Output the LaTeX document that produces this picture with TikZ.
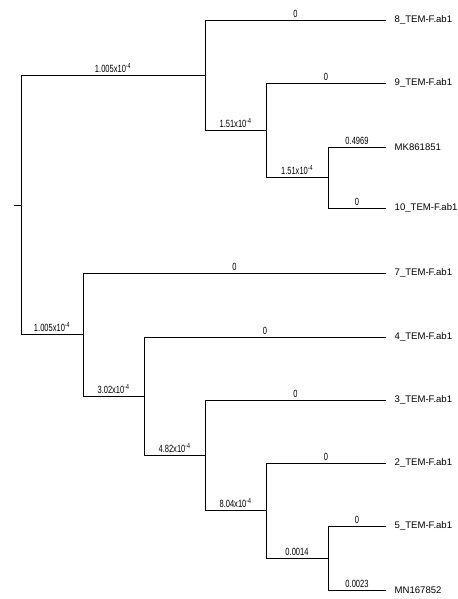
\documentclass[tikz,border=0pt]{standalone}
\usepackage{fontspec}
\setmainfont{Liberation Sans}
\begin{document}
\begin{tikzpicture}[x=1bp,y=-1bp,
  branch/.style={draw=black,line width=0.75pt},
  blabel/.style={font=\fontsize{10.5}{11}\selectfont,anchor=south,inner sep=0pt,yshift=2.5bp,xscale=0.72},
  leaflabel/.style={font=\fontsize{9.6}{11}\selectfont,anchor=west,inner ysep=0pt,inner xsep=8.5bp}]
\useasboundingbox (0,0) rectangle (458,599);
% internal nodes (x of vertical line, y of incoming branch)
\coordinate (tick) at (14,205);
\coordinate (root) at (21,205);
\coordinate (nA) at (205,75);
\coordinate (nB) at (266,130);
\coordinate (nC) at (328,177.5);
\coordinate (nD) at (83,334);
\coordinate (nE) at (144,396);
\coordinate (nF) at (205,455);
\coordinate (nG) at (266,510.5);
\coordinate (nH) at (328,558);
% leaves
\node[leaflabel] (l8) at (386,20) {8\_TEM-F.ab1};
\node[leaflabel] (l9) at (386,83) {9\_TEM-F.ab1};
\node[leaflabel] (lMK) at (386,147) {MK861851};
\node[leaflabel] (l10) at (386,208) {10\_TEM-F.ab1};
\node[leaflabel] (l7) at (386,273) {7\_TEM-F.ab1};
\node[leaflabel] (l4) at (386,337) {4\_TEM-F.ab1};
\node[leaflabel] (l3) at (386,400) {3\_TEM-F.ab1};
\node[leaflabel] (l2) at (386,463) {2\_TEM-F.ab1};
\node[leaflabel] (l5) at (386,526) {5\_TEM-F.ab1};
\node[leaflabel] (lMN) at (386,590) {MN167852};
% branches
\draw[branch] (tick) -- (root);
\draw[branch] (root) |- (nA) node[blabel,pos=0.75] {1.005x10\textsuperscript{-4}};
\draw[branch] (root) |- (nD) node[blabel,pos=0.75] {1.005x10\textsuperscript{-4}};
\draw[branch] (nA) |- (l8.west) node[blabel,pos=0.75] {0};
\draw[branch] (nA) |- (nB) node[blabel,pos=0.75] {1.51x10\textsuperscript{-4}};
\draw[branch] (nB) |- (l9.west) node[blabel,pos=0.75] {0};
\draw[branch] (nB) |- (nC) node[blabel,pos=0.75] {1.51x10\textsuperscript{-4}};
\draw[branch] (nC) |- (lMK.west) node[blabel,pos=0.75] {0.4969};
\draw[branch] (nC) |- (l10.west) node[blabel,pos=0.75] {0};
\draw[branch] (nD) |- (l7.west) node[blabel,pos=0.75] {0};
\draw[branch] (nD) |- (nE) node[blabel,pos=0.75] {3.02x10\textsuperscript{-4}};
\draw[branch] (nE) |- (l4.west) node[blabel,pos=0.75] {0};
\draw[branch] (nE) |- (nF) node[blabel,pos=0.75] {4.82x10\textsuperscript{-4}};
\draw[branch] (nF) |- (l3.west) node[blabel,pos=0.75] {0};
\draw[branch] (nF) |- (nG) node[blabel,pos=0.75] {8.04x10\textsuperscript{-4}};
\draw[branch] (nG) |- (l2.west) node[blabel,pos=0.75] {0};
\draw[branch] (nG) |- (nH) node[blabel,pos=0.75] {0.0014};
\draw[branch] (nH) |- (l5.west) node[blabel,pos=0.75] {0};
\draw[branch] (nH) |- (lMN.west) node[blabel,pos=0.75] {0.0023};
\end{tikzpicture}
\end{document}
